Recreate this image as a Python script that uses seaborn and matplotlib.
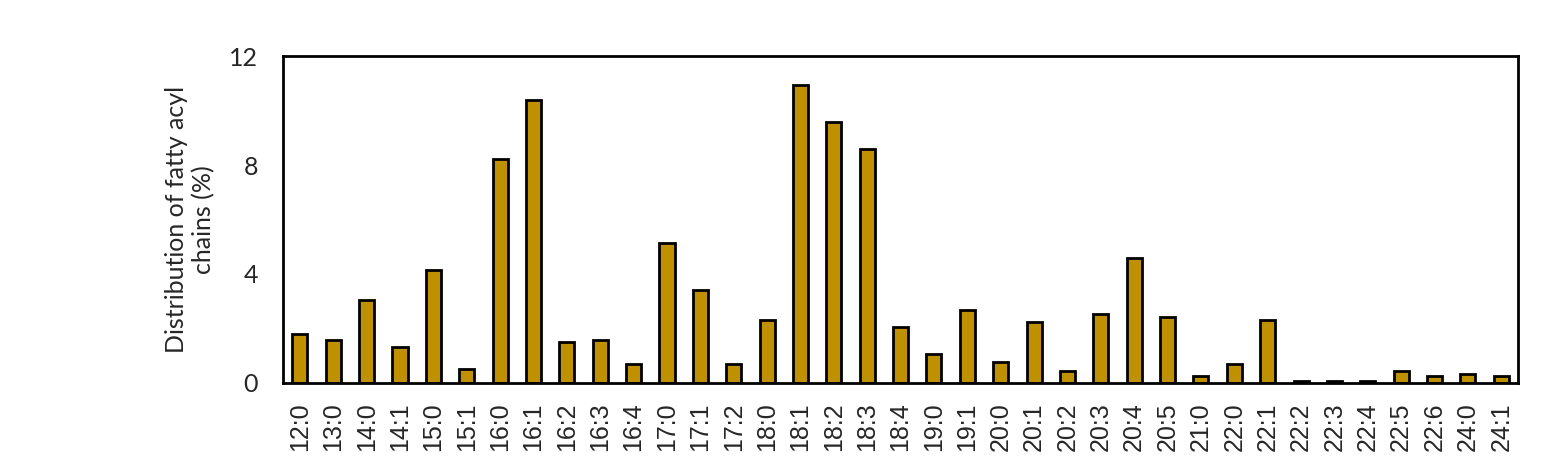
import pandas as pd
import matplotlib.pyplot as plt
import seaborn as sns

chains = ["12:0", "13:0", "14:0", "14:1", "15:0", "15:1", "16:0", "16:1", "16:2",
          "16:3", "16:4", "17:0", "17:1", "17:2", "18:0", "18:1", "18:2", "18:3",
          "18:4", "19:0", "19:1", "20:0", "20:1", "20:2", "20:3", "20:4", "20:5",
          "21:0", "22:0", "22:1", "22:2", "22:3", "22:4", "22:5", "22:6", "24:0", "24:1"]
percent = [1.78, 1.58, 3.05, 1.32, 4.15, 0.51, 8.22, 10.39, 1.50,
           1.58, 0.70, 5.14, 3.41, 0.70, 2.31, 10.94, 9.58, 8.59,
           2.05, 1.06, 2.68, 0.77, 2.24, 0.44, 2.53, 4.59, 2.42,
           0.26, 0.70, 2.31, 0.07, 0.07, 0.07, 0.44, 0.26, 0.33, 0.26]
yticks = [0, 4, 8, 12]

def main():
    sns.set_style("white")
    plt.rcParams['font.family'] = ['Lato', 'DejaVu Sans']

    df = pd.DataFrame({"chain": chains, "pct": percent})

    fig = plt.figure(figsize=(15.56, 4.68), dpi=100)
    ax = fig.add_axes([0.182, 0.182, 0.7936, 0.698])
    sns.barplot(data=df, x="chain", y="pct", color="#BF9000", saturation=1,
                width=0.45, edgecolor="black", linewidth=2, ax=ax)

    ax.set_ylim(0, 12)
    ax.set_yticks(yticks)
    ax.set_yticklabels([str(t) for t in yticks], fontsize=18)
    ax.set_xlim(-0.5, len(chains) - 0.5)
    ax.set_xlabel("")
    ax.set_ylabel("Distribution of fatty acyl\nchains (%)", fontsize=18, labelpad=10)
    ax.tick_params(axis="x", labelrotation=90, length=0, pad=14)
    ax.tick_params(axis="y", length=0, pad=18)
    for lab in ax.get_xticklabels():
        lab.set_fontfamily(['Liberation Sans', 'DejaVu Sans'])
        lab.set_fontsize(18)
    for s in ax.spines.values():
        s.set_color("black")
        s.set_linewidth(2)

    plt.savefig("out.png", dpi=100)

if __name__ == "__main__":
    main()
